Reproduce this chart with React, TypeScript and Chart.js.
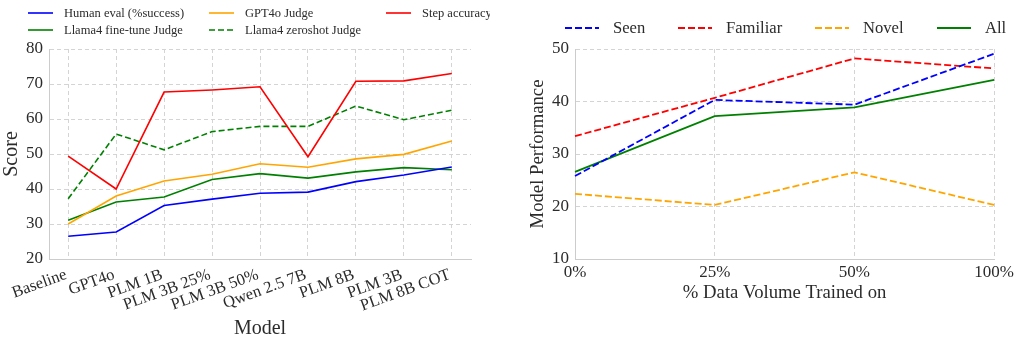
import React, { useEffect, useRef } from "react";
import { Chart, registerables } from "chart.js";
Chart.register(...registerables);

// ---------- Data ----------
const models = ["Baseline", "GPT4o", "PLM 1B", "PLM 3B 25%", "PLM 3B 50%", "Qwen 2.5 7B", "PLM 8B", "PLM 3B", "PLM 8B COT"];
const humanEval = [26.5, 27.7, 35.3, 37.1, 38.8, 39.1, 42.1, 44.0, 46.3];
const gpt4oJudge = [30.0, 38.0, 42.3, 44.2, 47.2, 46.2, 48.6, 49.9, 53.7];
const stepAccuracy = [49.4, 40.0, 67.7, 68.3, 69.2, 49.2, 70.8, 70.9, 73.0];
const llamaFinetune = [31.1, 36.3, 37.7, 42.7, 44.4, 43.1, 44.9, 46.1, 45.5];
const llamaZeroshot = [37.2, 55.7, 51.2, 56.4, 57.9, 57.9, 63.7, 59.8, 62.5];
const scoreTicks = [20, 30, 40, 50, 60, 70, 80];

const volumes = ["0%", "25%", "50%", "100%"];
const seen = [25.8, 40.3, 39.4, 49.1];
const familiar = [33.4, 40.7, 48.2, 46.3];
const novel = [22.4, 20.3, 26.5, 20.3];
const allPerf = [26.6, 37.2, 38.9, 44.1];
const perfTicks = [10, 20, 30, 40, 50];

const FONT = "'Liberation Serif', 'DejaVu Serif', serif";
const TEXT = "#2b2b2b";
const GRID = "#d4d4d4";
const SPINE = "#cccccc";

type LegendLayout = { cols: number[]; rows: number[]; lineLen: number; gap: number; size: number };

function legendPlugin(layout: LegendLayout) {
  return {
    id: "customLegend",
    afterDraw(chart: any) {
      const ctx = chart.ctx;
      const ds = chart.data.datasets;
      const perRow = layout.cols.length;
      ctx.save();
      ctx.font = `${layout.size}px ${FONT}`;
      ctx.textBaseline = "middle";
      ctx.textAlign = "left";
      ds.forEach((d: any, i: number) => {
        const c = i % perRow;
        const r = Math.floor(i / perRow);
        const x = layout.cols[c];
        const y = layout.rows[r];
        ctx.strokeStyle = d.borderColor;
        ctx.lineWidth = d.borderWidth;
        ctx.setLineDash(d.borderDash || []);
        ctx.beginPath();
        ctx.moveTo(x, y);
        ctx.lineTo(x + layout.lineLen, y);
        ctx.stroke();
        ctx.setLineDash([]);
        ctx.fillStyle = TEXT;
        ctx.fillText(d.label, x + layout.lineLen + layout.gap, y + 1);
      });
      ctx.restore();
    },
  };
}

function line(label: string, values: number[], color: string, width: number, dash?: number[], xs?: boolean) {
  return {
    label,
    data: xs ? values.map((v, i) => ({ x: i, y: v })) : values,
    borderColor: color,
    backgroundColor: color,
    borderWidth: width,
    borderDash: dash || [],
    pointRadius: 0,
    pointHoverRadius: 0,
    fill: false,
    tension: 0,
  };
}

export default function App() {
  const leftRef = useRef<HTMLCanvasElement>(null);
  const rightRef = useRef<HTMLCanvasElement>(null);

  useEffect(() => {
    const left = new Chart(leftRef.current!, {
      type: "line",
      data: {
        datasets: [
          line("Human eval (%success)", humanEval, "#0000ff", 1.6, undefined, true),
          line("GPT4o Judge", gpt4oJudge, "#ffa500", 1.6, undefined, true),
          line("Step accuracy", stepAccuracy, "#ff0000", 1.6, undefined, true),
          line("Llama4 fine-tune Judge", llamaFinetune, "#008000", 1.6, undefined, true),
          line("Llama4 zeroshot Judge", llamaZeroshot, "#008000", 1.6, [6, 3], true),
        ],
      },
      options: {
        responsive: false,
        animation: false,
        devicePixelRatio: 1,
        layout: { padding: { top: 49, right: 19, left: 0, bottom: 0 } },
        plugins: { legend: { display: false }, tooltip: { enabled: false } },
        scales: {
          x: {
            type: "linear",
            min: -0.4,
            max: 8.4,
            afterBuildTicks: (s: any) => {
              s.ticks = models.map((_, i) => ({ value: i }));
            },
            afterFit: (s: any) => {
              s.height = 82;
            },
            ticks: {
              callback: (v: any) => models[v] ?? "",
              minRotation: 20,
              maxRotation: 20,
              autoSkip: false,
              padding: 6,
              labelOffset: -2,
              color: TEXT,
              font: { family: FONT, size: 16.5 },
            },
            grid: { color: GRID, drawTicks: false },
            border: { display: true, color: SPINE, dash: [4, 3] },
            title: { display: true, text: "Model", color: TEXT, font: { family: FONT, size: 20 }, padding: { top: 0, bottom: 0 } },
          },
          y: {
            min: 20,
            max: 80,
            afterBuildTicks: (s: any) => {
              s.ticks = scoreTicks.map((v) => ({ value: v }));
            },
            afterFit: (s: any) => {
              s.width = 49;
            },
            ticks: { padding: 6, color: TEXT, font: { family: FONT, size: 17 } },
            grid: { color: GRID, drawTicks: false },
            border: { display: true, color: SPINE, dash: [4, 3] },
            title: { display: true, text: "Score", color: TEXT, font: { family: FONT, size: 20 }, padding: 0 },
          },
        },
      },
      plugins: [legendPlugin({ cols: [28, 209, 386], rows: [13, 30], lineLen: 25, gap: 11, size: 12.5 })],
    } as any);

    const right = new Chart(rightRef.current!, {
      type: "line",
      data: {
        labels: volumes,
        datasets: [
          line("Seen", seen, "#0000ff", 1.8, [7, 3]),
          line("Familiar", familiar, "#ff0000", 1.8, [7, 3]),
          line("Novel", novel, "#ffa500", 1.8, [7, 3]),
          line("All", allPerf, "#008000", 1.8),
        ],
      },
      options: {
        responsive: false,
        animation: false,
        devicePixelRatio: 1,
        layout: { padding: { top: 49, right: 20, left: 0, bottom: 37 } },
        plugins: { legend: { display: false }, tooltip: { enabled: false } },
        scales: {
          x: {
            type: "category",
            offset: false,
            afterFit: (s: any) => {
              s.height = 45;
            },
            ticks: {
              padding: 3,
              maxRotation: 0,
              minRotation: 0,
              color: TEXT,
              font: { family: FONT, size: 17 },
            },
            grid: { color: GRID, drawTicks: false, offset: false },
            border: { display: true, color: SPINE, dash: [4, 3] },
            title: { display: true, text: "% Data Volume Trained on", color: TEXT, font: { family: FONT, size: 18.7 }, padding: 0 },
          },
          y: {
            min: 10,
            max: 50,
            afterBuildTicks: (s: any) => {
              s.ticks = perfTicks.map((v) => ({ value: v }));
            },
            afterFit: (s: any) => {
              s.width = 48;
            },
            ticks: { padding: 6, color: TEXT, font: { family: FONT, size: 17 } },
            grid: { color: GRID, drawTicks: false },
            border: { display: true, color: SPINE, dash: [4, 3] },
            title: { display: true, text: "Model Performance", color: TEXT, font: { family: FONT, size: 18.7 }, padding: 0 },
          },
        },
      },
      plugins: [legendPlugin({ cols: [38, 151, 288, 410], rows: [28], lineLen: 34, gap: 14, size: 16.6 })],
    } as any);

    return () => {
      left.destroy();
      right.destroy();
    };
  }, []);

  return (
    <div style={{ position: "fixed", left: 0, top: 0, width: 1017, height: 341, background: "#ffffff" }}>
      <canvas ref={leftRef} width={490} height={341} style={{ position: "absolute", left: 0, top: 0, width: 490, height: 341 }} />
      <canvas ref={rightRef} width={490} height={341} style={{ position: "absolute", left: 527, top: 0, width: 490, height: 341 }} />
    </div>
  );
}
